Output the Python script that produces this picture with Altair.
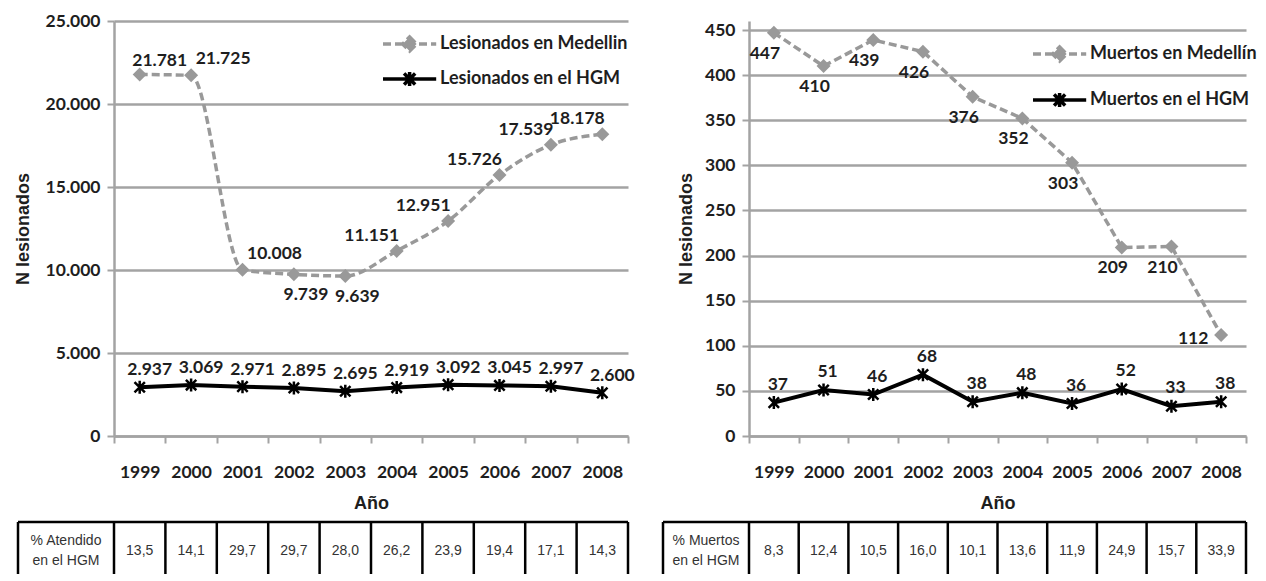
import altair as alt
import pandas as pd

# ---------------- data ----------------
years = ["1999", "2000", "2001", "2002", "2003", "2004", "2005", "2006", "2007", "2008"]

lesionados_medellin = [21781, 21725, 10008, 9739, 9639, 11151, 12951, 15726, 17539, 18178]
lesionados_hgm = [2937, 3069, 2971, 2895, 2695, 2919, 3092, 3045, 2997, 2600]
pct_atendido_hgm = [13.5, 14.1, 29.7, 29.7, 28.0, 26.2, 23.9, 19.4, 17.1, 14.3]

muertos_medellin = [447, 410, 439, 426, 376, 352, 303, 209, 210, 112]
muertos_hgm = [37, 51, 46, 68, 38, 48, 36, 52, 33, 38]
pct_muertos_hgm = [8.3, 12.4, 10.5, 16.0, 10.1, 13.6, 11.9, 24.9, 15.7, 33.9]

ticks_lesionados = [0, 5000, 10000, 15000, 20000, 25000]
ticks_muertos = [0, 50, 100, 150, 200, 250, 300, 350, 400, 450]

# where each data label sits relative to its point (a style category)
place_les_medellin = ["above-near"] + ["above-right"] * 2 + ["below-right"] * 2 + ["above-left"] * 5
place_mue_medellin = ["below"] * 9 + ["left"]

# ---------------- styles ----------------
GRAY = "#999999"
AXIS_GRAY = "#a3a3a3"
TEXT = "#1e1e1e"
LABEL_FONT = "Lato"
TITLE_FONT = "Liberation Sans"
H = 415

OFFSETS = {
    "above-near": (20, -13),
    "above-right": (32, -16),
    "below-right": (12, 21),
    "above-left": (-25, -15),
    "below": (-9, 21),
    "left": (-28, 4),
    "hgm-left": (10, -17),
    "hgm-right": (4, -18),
}

STAR = "M-0.8,-0.8L0.8,0.8M-0.8,0.8L0.8,-0.8M0,-1L0,1"
LEG_DIAMOND = "M-1,0L6.6,0M2.8,-1L3.8,0L2.8,1L1.8,0Z"
LEG_STAR = "M-1,0L6.6,0M2.0,-0.8L3.6,0.8M2.0,0.8L3.6,-0.8M2.8,-1L2.8,1"


def thousands(v):
    return f"{v:,}".replace(",", ".")


def decimal(v):
    return f"{v:.1f}".replace(".", ",")


def panel(city, hgm, city_vals, hgm_vals, city_place, hgm_place, pct_vals,
          table_label, ticks, ymax, width, title_x, legend_x, legend_y,
          row_pad, cell_left, city_interp):
    df = pd.DataFrame({
        "year": years * 2,
        "value": city_vals + hgm_vals,
        "series": [city] * 10 + [hgm] * 10,
        "place": city_place + [hgm_place] * 10,
        "label": [thousands(v) for v in city_vals + hgm_vals],
    })
    tdf = pd.DataFrame({"year": years, "pct": [decimal(v) for v in pct_vals]})
    one = pd.DataFrame({"k": [0]})

    xscale = alt.Scale(type="band", domain=years, paddingInner=0, paddingOuter=0)
    yscale = alt.Scale(domain=[0, ymax], nice=False)
    x_axis = alt.Axis(title="Año", labelAngle=0, tickBand="extent", grid=False,
                      labelPadding=20, titleY=67, titleBaseline="middle")
    y_axis = alt.Axis(title="N lesionados", values=ticks, grid=True,
                      labelExpr="replace(format(datum.value, ','), ',', '.')",
                      titleX=title_x, titleY=H / 2, labelPadding=7)
    X = alt.X("year:O", scale=xscale, axis=x_axis)
    Y = alt.Y("value:Q", scale=yscale, axis=y_axis)

    base = alt.Chart(df)
    is_city = alt.datum.series == city
    is_hgm = alt.datum.series == hgm

    layers = []
    # ---- table below the chart ----
    top, bottom, mid = 501, 553, 530
    tbl = alt.Chart(tdf)
    layers.append(alt.Chart(one).mark_rule(color="black", strokeWidth=2.5).encode(
        x=alt.value(cell_left), x2=alt.value(width), y=alt.value(top)))
    layers.append(alt.Chart(one).mark_rule(color="black", strokeWidth=2.5).encode(
        x=alt.value(cell_left), y=alt.value(top), y2=alt.value(bottom)))
    layers.append(alt.Chart(one).mark_rule(color="black", strokeWidth=2.5).encode(
        x=alt.value(width), y=alt.value(top), y2=alt.value(bottom)))
    layers.append(tbl.mark_rule(color="black", strokeWidth=2.5).encode(
        x=alt.X("year:O", scale=xscale, axis=x_axis, bandPosition=0),
        y=alt.value(top), y2=alt.value(bottom)))
    layers.append(tbl.mark_text(font=TITLE_FONT, fontSize=14, color="#333333").encode(
        x=X, y=alt.value(mid), text="pct:N"))
    layers.append(alt.Chart(one).mark_text(
        font=TITLE_FONT, fontSize=14, color="#333333", lineBreak="\n",
        lineHeight=20, baseline="middle", align="center"
    ).encode(x=alt.value(cell_left / 2), y=alt.value(mid - 10),
             text=alt.value(table_label)))

    # ---- series ----
    city_line = base.transform_filter(is_city).mark_line(
        color=GRAY, strokeWidth=3.5, strokeDash=[8, 4], interpolate=city_interp
    ).encode(x=X, y=Y)
    hgm_line = base.transform_filter(is_hgm).mark_line(
        color="black", strokeWidth=4
    ).encode(x=X, y=Y)
    city_pts = base.transform_filter(is_city).mark_point(
        shape="diamond", filled=True, color=GRAY, size=196, opacity=1
    ).encode(x=X, y=Y)
    hgm_pts = base.transform_filter(is_hgm).mark_point(
        shape=STAR, filled=False, color="black", strokeWidth=2.5, size=169, opacity=1
    ).encode(x=X, y=Y)
    layers += [city_line, hgm_line, city_pts, hgm_pts]

    for place in sorted(set(city_place + [hgm_place])):
        dx, dy = OFFSETS[place]
        layers.append(
            base.transform_filter(alt.datum.place == place).mark_text(
                dx=dx, dy=dy, font=LABEL_FONT, fontSize=17.5, fontWeight="bold",
                color=TEXT, baseline="middle", align="center"
            ).encode(x=X, y=Y, text="label:N")
        )

    # ---- legend (scale driven, symbols = line + marker) ----
    leg = alt.Legend(title=None, orient="none", legendX=legend_x, legendY=legend_y,
                     symbolSize=196, symbolStrokeWidth=3.5, labelFont=LABEL_FONT,
                     labelFontSize=18, labelFontWeight="bold", labelColor=TEXT,
                     labelOffset=41, labelLimit=400, rowPadding=row_pad, padding=0)
    dom = [city, hgm]
    layers.append(
        base.transform_filter("datum.value < 0").mark_point(
            filled=True, fill=GRAY, opacity=1, strokeWidth=3.5
        ).encode(
            shape=alt.Shape("series:N", scale=alt.Scale(domain=dom, range=[LEG_DIAMOND, LEG_STAR]), legend=leg),
            stroke=alt.Stroke("series:N", scale=alt.Scale(domain=dom, range=[GRAY, "black"]), legend=leg),
            strokeDash=alt.StrokeDash("series:N", scale=alt.Scale(domain=dom, range=[[8, 4], [1, 0]]), legend=leg),
        )
    )
    return alt.layer(*layers).properties(width=width, height=H)


left = panel("Lesionados en Medellin", "Lesionados en el HGM",
             lesionados_medellin, lesionados_hgm, place_les_medellin, "hgm-left",
             pct_atendido_hgm, "% Atendido\nen el HGM", ticks_lesionados, 25000,
             514, -82, 267, 14, 7, -96, "monotone")
right = panel("Muertos en Medellín", "Muertos en el HGM",
              muertos_medellin, muertos_hgm, place_mue_medellin, "hgm-right",
              pct_muertos_hgm, "% Muertos\nen el HGM", ticks_muertos, 460,
              497, -54, 282, 24, 18, -86, "linear")

chart = alt.hconcat(left, right, spacing=121, bounds="flush").resolve_scale(
    shape="independent", stroke="independent", strokeDash="independent"
).resolve_legend(
    shape="independent", stroke="independent", strokeDash="independent"
).properties(
    padding={"left": 6, "top": 4, "right": 0, "bottom": 0}
).configure_view(stroke=None).configure_axis(
    domainColor=AXIS_GRAY, domainWidth=2.5, gridColor=AXIS_GRAY, gridWidth=2.5,
    tickColor=AXIS_GRAY, tickWidth=2, tickSize=7,
    labelFont=LABEL_FONT, labelFontSize=17.5, labelFontWeight="bold", labelColor=TEXT,
    titleFont=TITLE_FONT, titleFontSize=18, titleFontWeight="bold", titleColor=TEXT,
)

chart.save("out.html", embed_options={"renderer": "svg", "actions": False})
